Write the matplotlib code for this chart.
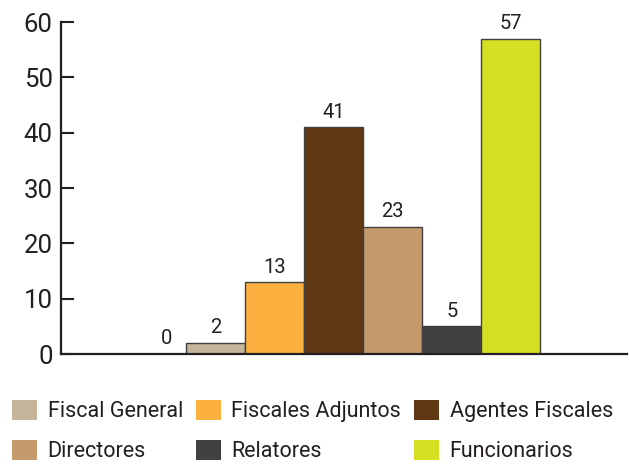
import matplotlib
matplotlib.use("Agg")
import matplotlib.pyplot as plt
from matplotlib.patches import Patch

plt.rcParams['font.family'] = ['Roboto', 'DejaVu Sans']

categories = ['', 'Fiscal General', 'Fiscales Adjuntos', 'Agentes Fiscales',
              'Directores', 'Relatores', 'Funcionarios']
values = [0, 2, 13, 41, 23, 5, 57]
colors = ['none', '#c4b49a', '#fbb040', '#603813', '#c49a6c', '#414042', '#d7df23']
yticks = [0, 10, 20, 30, 40, 50, 60]

fig = plt.figure(figsize=(6.29, 4.66), dpi=100)
ax = fig.add_axes([61/629, 1-354/466, (627-61)/629, (354-22)/466])

x = list(range(len(values)))
bars = ax.bar(x, values, width=1.0, color=colors,
              edgecolor=['none'] + ['#404040'] * 6, linewidth=1.0)

for i, v in enumerate(values):
    xi = i + (0.17 if v == 0 else 0)
    ax.annotate(str(v), (xi, v), xytext=(0, 4), textcoords='offset points',
                ha='center', va='bottom', fontsize=14.5, color='#231f20')

ax.set_xlim(-1.62, 7.97)
ax.set_ylim(0, 60)
ax.set_yticks(yticks)
ax.set_xticks([])
for s in ['top', 'right']:
    ax.spines[s].set_visible(False)
for s in ['left', 'bottom']:
    ax.spines[s].set_linewidth(1.6)
    ax.spines[s].set_color('#231f20')
ax.tick_params(axis='y', direction='in', length=9.5, width=1.5, color='#231f20',
               labelsize=18.5, pad=6, labelcolor='#231f20')

order = [1, 4, 2, 5, 3, 6]
handles = [Patch(facecolor=colors[i], edgecolor='none', label=categories[i]) for i in order]
fig.legend(handles=handles, ncol=3, loc='lower left',
           bbox_to_anchor=(12/629, 4/466), frameon=False, fontsize=15.5,
           handlelength=1.15, handleheight=1.05, handletextpad=0.5,
           columnspacing=0.6, labelspacing=0.8, borderaxespad=0,
           borderpad=0, labelcolor='#231f20')

fig.savefig('out.png', dpi=100)
